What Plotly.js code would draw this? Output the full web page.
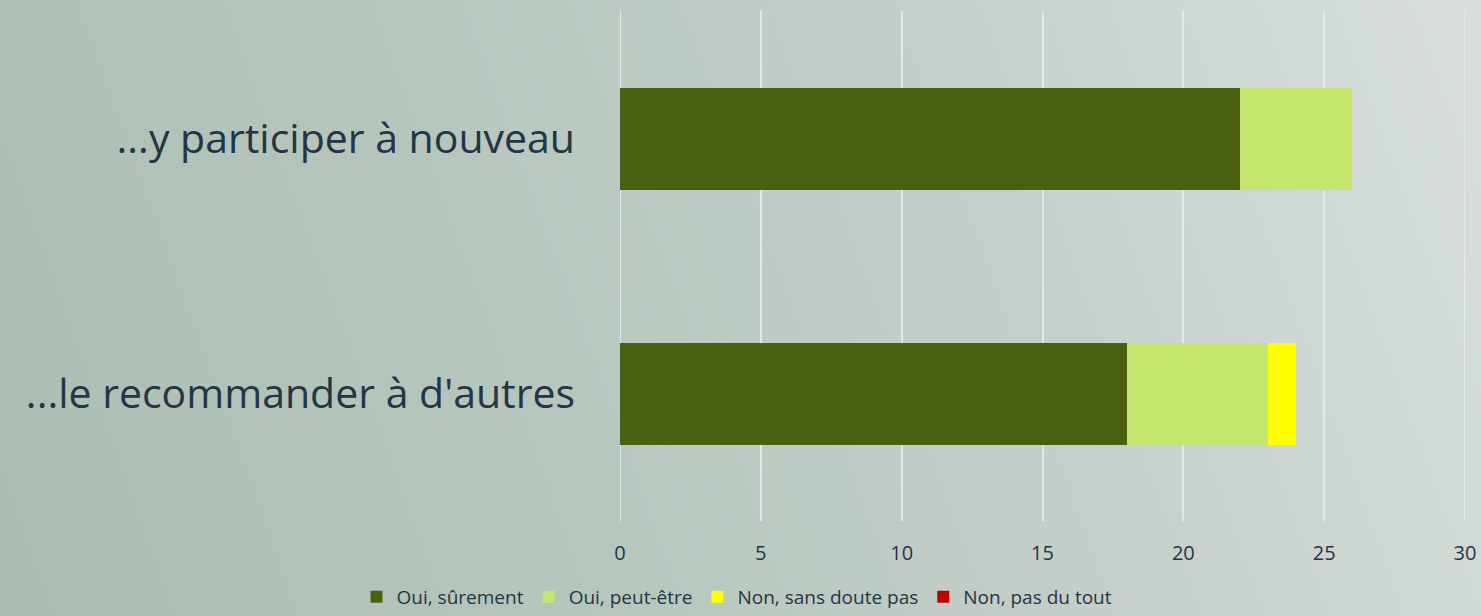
<!DOCTYPE html>
<html>
<head>
<meta charset="utf-8">
<script src="https://cdn.plot.ly/plotly-3.0.1.min.js"></script>
<style>
html, body { margin:0; padding:0; width:1481px; height:616px; overflow:hidden;
  background: linear-gradient(70deg, #abbdb3 0%, #b6c6bd 35%, #c6d0cb 68%, #d9e0dc 100%); }
#chart { width:1481px; height:616px; }
</style>
</head>
<body>
<div id="chart"></div>
<script>
const categories = ["...le recommander à d'autres", "...y participer à nouveau"];
const seriesNames = ["Oui, sûrement", "Oui, peut-être", "Non, sans doute pas", "Non, pas du tout"];
const ouiSurement = [18, 22];
const ouiPeutEtre = [5, 4];
const nonSansDoutePas = [1, 0];
const nonPasDuTout = [0, 0];
const xTicks = [0, 5, 10, 15, 20, 25, 30];
const colors = ["#4a5f10", "#c4e56e", "#ffff00", "#c00000"];

const values = [ouiSurement, ouiPeutEtre, nonSansDoutePas, nonPasDuTout];
const traces = values.map((v, i) => ({
  type: 'bar', orientation: 'h', name: seriesNames[i], x: v, y: categories,
  marker: { color: colors[i], line: { width: 0 } }, hoverinfo: 'x+name'
}));

const gridColor = '#e3e9ea';
// edge gridlines (Plotly omits gridlines that sit on the range edges)
const edgeLines = [xTicks[0], xTicks[xTicks.length - 1]].map(v => ({
  type: 'line', xref: 'x', yref: 'paper', x0: v, x1: v, y0: 0, y1: 1,
  line: { color: gridColor, width: 2 }, layer: 'below'
}));

const layout = {
  width: 1481, height: 616,
  paper_bgcolor: 'rgba(0,0,0,0)', plot_bgcolor: 'rgba(0,0,0,0)',
  margin: { l: 620, r: 16, t: 11, b: 95 },
  barmode: 'stack', bargap: 0.6,
  font: { family: '"Open Sans", sans-serif', color: '#253545' },
  xaxis: {
    range: [xTicks[0], xTicks[xTicks.length - 1]], tickvals: xTicks, ticktext: xTicks.map(String),
    showgrid: true, gridcolor: gridColor, gridwidth: 2, zeroline: false,
    showline: false, ticks: '', ticklabelstandoff: 18,
    tickfont: { size: 20, color: '#253545' }
  },
  yaxis: {
    type: 'category', categoryorder: 'array', categoryarray: categories,
    showgrid: false, zeroline: false, showline: false, ticks: '',
    ticklabelstandoff: 44, tickfont: { size: 41, color: '#253545' }
  },
  shapes: edgeLines,
  showlegend: true,
  legend: {
    orientation: 'h', x: 737 / 1481, xref: 'container', xanchor: 'center',
    y: 0, yref: 'container', yanchor: 'bottom', traceorder: 'normal',
    font: { size: 19, color: '#253545' }, itemwidth: 30,
    bgcolor: 'rgba(0,0,0,0)'
  }
};

Plotly.newPlot('chart', traces, layout, { displayModeBar: false, responsive: false });
</script>
</body>
</html>
